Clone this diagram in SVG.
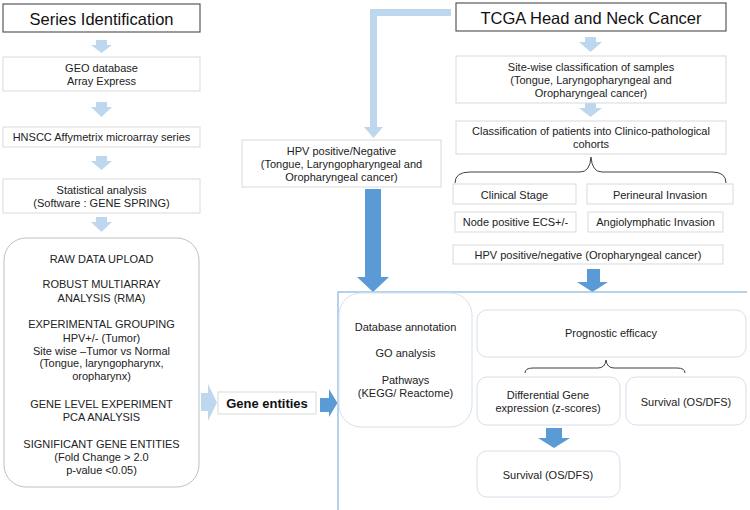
<svg xmlns="http://www.w3.org/2000/svg" width="750" height="510" viewBox="0 0 750 510">
<style>
text{font-family:"Liberation Sans",Arial,sans-serif;font-size:11px;fill:#222;text-anchor:middle}
.title{font-size:16.5px;fill:#111}
.bold{font-weight:bold;font-size:13px;fill:#111}
.tbox{fill:#fff;stroke:#595959;stroke-width:1.2}
.box{fill:#fff;stroke:#d9d9d9;stroke-width:1}
.rbox{fill:#fff;stroke:#bfbfbf;stroke-width:1}
.bbox{fill:#fff;stroke:#d6e0ee;stroke-width:1}
.la{fill:#bdd7ee}
.da{fill:#5b9bd5}
.brace{fill:none;stroke:#404040;stroke-width:1}
.cont{fill:none;stroke:#9dc3e6;stroke-width:1.5}
</style>
<rect width="750" height="510" fill="#fff"/>

<g id="connectors">
  <polygon class="la" points="96,40 107,40 107,45 112,45 101.5,53 91,45 96,45" transform="translate(0,0)"/>
  <polygon class="la" points="96,102 107,102 107,107 112,107 101.5,117 91,107 96,107"/>
  <polygon class="la" points="96,156 107,156 107,161 112,161 101.5,170 91,161 96,161"/>
  <polygon class="la" points="96,217 107,217 107,222 112,222 101.5,232 91,222 96,222"/>
  <polygon class="la" points="585,37 596,37 596,42 602,42 590.5,52 579,42 585,42"/>
  <polygon class="la" points="585,103 596,103 596,108 602,108 590.5,117 579,108 585,108"/>
  <polygon class="la" points="451,9 451,16 377,16 377,127 383,127 373.5,138 364,127 370,127 370,9"/>
  <polygon class="la" points="201,393 208,393 208,384 217,402.5 208,421 208,411 201,411"/>
  <polygon class="da" points="365,189 381,189 381,277 389,277 373,292 357,277 365,277"/>
  <polygon class="da" points="320,398 329,398 329,389 337.5,403 329,417 329,412 320,412"/>
  <polygon class="da" points="587,269 600,269 600,282 608,282 592.5,292 577,282 587,282"/>
  <polygon class="da" points="546,428 562,428 562,438 570,438 554,448 538,438 546,438"/>
  <path class="cont" d="M338,510 V292 H747"/>
  <path class="brace" d="M455,183 Q455,172 470,172 H580 Q590,172 591,157 Q592,172 602,172 H712 Q726,172 726,183"/>
  <path class="brace" d="M525,373 Q525,368 533,368 H598 Q605,368 606,360 Q607,368 614,368 H677 Q685,368 685,373"/>
</g>

<g id="series">
  <rect class="tbox" x="3" y="4" width="197" height="28"/>
  <text class="title" x="101.5" y="24.5">Series Identification</text>
</g>
<g id="geo">
  <rect class="box" x="3" y="57" width="197" height="34"/>
  <text x="101.5" y="72">GEO database</text>
  <text x="101.5" y="84.5">Array Express</text>
</g>
<g id="hnscc">
  <rect class="box" x="3" y="127" width="197" height="20"/>
  <text x="101.5" y="141">HNSCC Affymetrix microarray series</text>
</g>
<g id="stat">
  <rect class="box" x="3" y="179" width="197" height="34"/>
  <text x="101.5" y="194">Statistical analysis</text>
  <text x="101.5" y="207">(Software : GENE SPRING)</text>
</g>
<g id="raw">
  <rect class="rbox" x="4" y="238" width="195" height="249" rx="22"/>
  <text x="101.5" y="262.5">RAW DATA UPLOAD</text>
  <text x="101.5" y="288">ROBUST MULTIARRAY</text>
  <text x="101.5" y="301.5">ANALYSIS (RMA)</text>
  <text x="101.5" y="328">EXPERIMENTAL GROUPING</text>
  <text x="101.5" y="341.5">HPV+/- (Tumor)</text>
  <text x="101.5" y="355">Site wise –Tumor vs Normal</text>
  <text x="101.5" y="367">(Tongue, laryngopharynx,</text>
  <text x="101.5" y="380">oropharynx)</text>
  <text x="101.5" y="407.5">GENE LEVEL EXPERIMENT</text>
  <text x="101.5" y="421">PCA ANALYSIS</text>
  <text x="101.5" y="447.5">SIGNIFICANT  GENE ENTITIES</text>
  <text x="101.5" y="461">(Fold Change &gt; 2.0</text>
  <text x="101.5" y="474">p-value  &lt;0.05)</text>
</g>
<g id="gene">
  <rect class="box" x="218" y="392" width="98" height="22"/>
  <text class="bold" x="267" y="407.5">Gene entities</text>
</g>

<g id="tcga">
  <rect class="tbox" x="456" y="3" width="270" height="28"/>
  <text class="title" x="591" y="23.5">TCGA Head and Neck Cancer</text>
</g>
<g id="sitewise">
  <rect class="box" x="456" y="56" width="270" height="47"/>
  <text x="591" y="71">Site-wise classification of samples</text>
  <text x="591" y="84">(Tongue, Laryngopharyngeal and</text>
  <text x="591" y="97">Oropharyngeal cancer)</text>
</g>
<g id="classif">
  <rect class="box" x="456" y="121" width="270" height="33"/>
  <text x="591" y="135">Classification of patients into Clinico-pathological</text>
  <text x="591" y="148">cohorts</text>
</g>
<g id="hpvall">
  <rect class="box" x="242" y="140" width="199" height="47"/>
  <text x="341.5" y="155">HPV positive/Negative</text>
  <text x="341.5" y="168">(Tongue, Laryngopharyngeal and</text>
  <text x="341.5" y="181">Oropharyngeal cancer)</text>
</g>
<g id="clinical">
  <rect class="box" x="453" y="184" width="123" height="20"/>
  <text x="514.5" y="198.5">Clinical Stage</text>
</g>
<g id="perineural">
  <rect class="box" x="587" y="184" width="146" height="20"/>
  <text x="660" y="198.5">Perineural Invasion</text>
</g>
<g id="node">
  <rect class="box" x="455" y="212" width="121" height="20"/>
  <text x="515.5" y="226">Node positive ECS+/-</text>
</g>
<g id="angio">
  <rect class="box" x="588" y="212" width="135" height="20"/>
  <text x="655.5" y="226">Angiolymphatic Invasion</text>
</g>
<g id="hpvoro">
  <rect class="box" x="453" y="245" width="270" height="19"/>
  <text x="588" y="259">HPV positive/negative (Oropharyngeal cancer)</text>
</g>

<g id="dbannot">
  <rect class="bbox" x="339" y="293" width="133" height="134" rx="22"/>
  <text x="405.5" y="331">Database annotation</text>
  <text x="405.5" y="357">GO analysis</text>
  <text x="405.5" y="384">Pathways</text>
  <text x="405.5" y="397">(KEGG/ Reactome)</text>
</g>
<g id="prognostic">
  <rect class="bbox" x="477" y="310" width="269" height="47" rx="10"/>
  <text x="611" y="337">Prognostic efficacy</text>
</g>
<g id="diffgene">
  <rect class="bbox" x="477" y="377" width="143" height="48" rx="10"/>
  <text x="548" y="399">Differential Gene</text>
  <text x="548" y="412">expression (z-scores)</text>
</g>
<g id="survival1">
  <rect class="bbox" x="626" y="377" width="120" height="48" rx="10"/>
  <text x="686" y="405.5">Survival (OS/DFS)</text>
</g>
<g id="survival2">
  <rect class="bbox" x="477" y="451" width="143" height="46" rx="10"/>
  <text x="548" y="478.5">Survival (OS/DFS)</text>
</g>
</svg>
